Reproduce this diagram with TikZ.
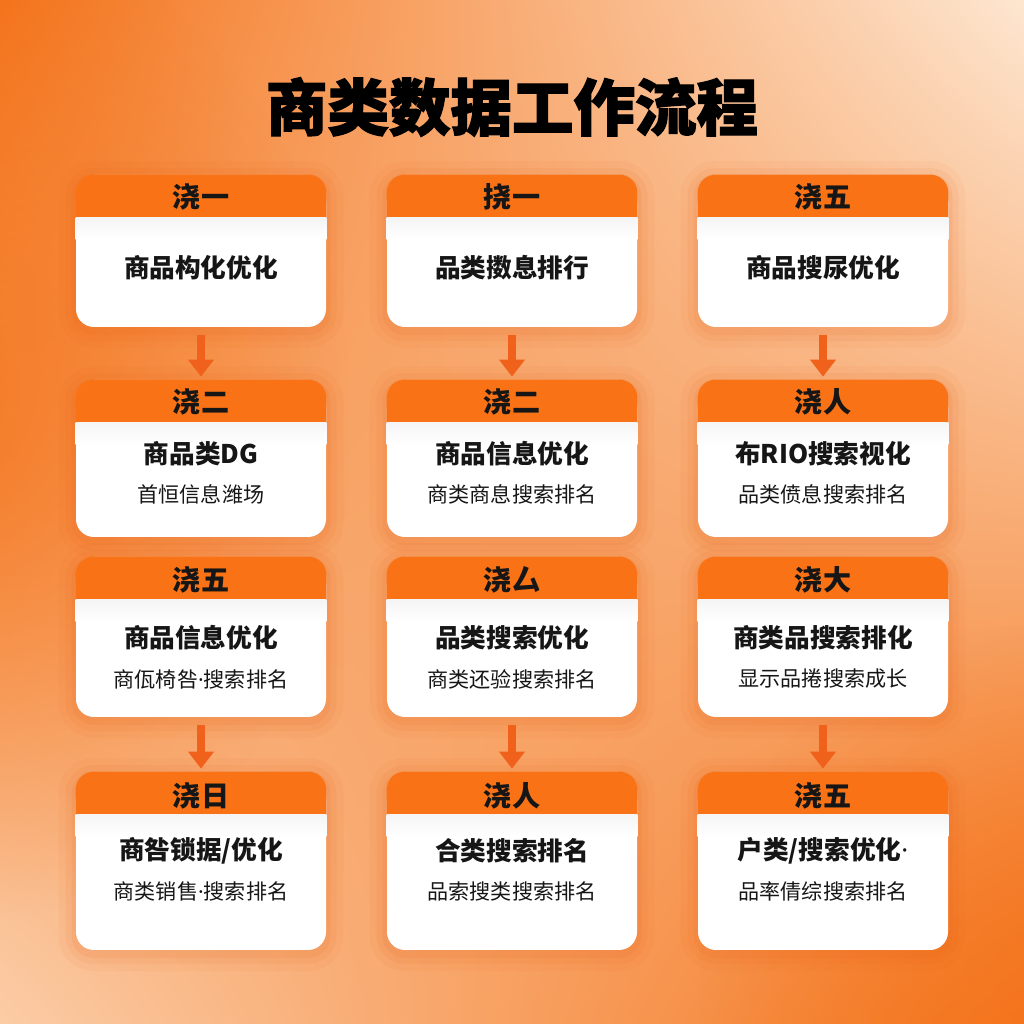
\documentclass[tikz,border=0pt]{standalone}
\usepackage{fontspec}
\setmainfont{Noto Sans CJK SC}
\newfontfamily\titlefont{Noto Sans CJK SC}[BoldFeatures={FakeBold=2}]
\newfontfamily\latinfont{Noto Sans}
\usepackage{xcolor}
\usepackage{tikz}
\usetikzlibrary{positioning,arrows.meta,fadings,shadings}

\definecolor{bgorange}{RGB}{244,116,28}
\definecolor{bgpale}{RGB}{253,230,208}
\definecolor{bgpeach}{RGB}{251,204,166}
\definecolor{hdrorange}{RGB}{249,115,22}
\definecolor{arroworange}{RGB}{240,98,28}
\definecolor{glow}{RGB}{232,90,15}
\definecolor{textdark}{RGB}{22,22,22}
\tikzfading[name=softglow, inner color=transparent!0, outer color=transparent!100]
\newcommand{\mdot}{{\latinfont ·}}

\begin{document}
\begin{tikzpicture}[
    card/.style={rectangle, rounded corners=0.36cm, fill=white, minimum width=5cm, inner sep=0pt,
      preaction={draw=glow, line width=0.7cm, opacity=0.05, transform canvas={yshift=-2pt}},
      preaction={draw=glow, line width=0.42cm, opacity=0.07, transform canvas={yshift=-2pt}},
      preaction={draw=glow, line width=0.18cm, opacity=0.09, transform canvas={yshift=-2pt}}},
    head/.style={font=\bfseries\fontsize{16}{18}\selectfont, text=textdark, inner sep=0pt},
    main/.style={font=\bfseries\fontsize{14.6}{17}\selectfont, text=textdark, inner sep=0pt},
    sub/.style={font=\fontsize{12}{14}\selectfont, text=textdark, inner sep=0pt},
    flow/.style={-{Triangle[width=0.5cm,length=0.34cm]}, line width=0.16cm, draw=arroworange,
      shorten <=0.16cm, shorten >=0.06cm}
]
    \useasboundingbox (0,0) rectangle (20.48,20.48);
    \shade[upper left=bgorange, upper right=bgpale, lower left=bgpeach, lower right=bgorange] (0,0) rectangle (20.48,20.48);
    \fill[bgorange, path fading=softglow, opacity=0.8] (-9,2) rectangle (7,22);
    \fill[bgorange, path fading=softglow, opacity=0.6] (14,-6) rectangle (28,8);

    \node (title) [font=\titlefont\bfseries\fontsize{35}{40}\selectfont, text=black] at (10.24,18.34) {商类数据工作流程};

    \node (c11) [card, minimum height=3.04cm] at (4.02,15.46) {};
    \node (c12) [card, minimum height=3.04cm] at (10.24,15.46) {};
    \node (c13) [card, minimum height=3.04cm] at (16.46,15.46) {};
    \node (c21) [card, minimum height=3.14cm] at (4.02,11.31) {};
    \node (c22) [card, minimum height=3.14cm] at (10.24,11.31) {};
    \node (c23) [card, minimum height=3.14cm] at (16.46,11.31) {};
    \node (c31) [card, minimum height=3.2cm] at (4.02,7.74) {};
    \node (c32) [card, minimum height=3.2cm] at (10.24,7.74) {};
    \node (c33) [card, minimum height=3.2cm] at (16.46,7.74) {};
    \node (c41) [card, minimum height=3.56cm] at (4.02,3.26) {};
    \node (c42) [card, minimum height=3.56cm] at (10.24,3.26) {};
    \node (c43) [card, minimum height=3.56cm] at (16.46,3.26) {};

    \foreach \c in {c11,c12,c13,c21,c22,c23,c31,c32,c33,c41,c42,c43} {
        \fill[hdrorange, rounded corners=0.36cm] (\c.north west) rectangle ([yshift=-0.86cm]\c.north east);
        \fill[hdrorange] ([yshift=-0.5cm]\c.north west) rectangle ([yshift=-0.86cm]\c.north east);
        \shade[top color=black!4, bottom color=white] ([yshift=-0.86cm]\c.north west) rectangle ([yshift=-1.3cm]\c.north east);
    }

    \node (h11) [head] at (4.02,16.54) {浇一};
    \node (h12) [head] at (10.24,16.54) {挠一};
    \node (h13) [head] at (16.46,16.54) {浇五};
    \node (t11) [main] at (4.02,15.12) {商品构化优化};
    \node (t12) [main] at (10.24,15.12) {品类擞息排行};
    \node (t13) [main] at (16.46,15.12) {商品搜尿优化};

    \node (h21) [head] at (4.02,12.44) {浇二};
    \node (h22) [head] at (10.24,12.44) {浇二};
    \node (h23) [head] at (16.46,12.44) {浇人};
    \node (t21) [main] at (4.02,11.40) {商品类DG};
    \node (t22) [main] at (10.24,11.40) {商品信息优化};
    \node (t23) [main] at (16.46,11.40) {布RIO搜索视化};
    \node (s21) [sub] at (4.02,10.60) {首恒信息潍场};
    \node (s22) [sub] at (10.24,10.60) {商类商息搜索排名};
    \node (s23) [sub] at (16.46,10.60) {品类偾息搜索排名};

    \node (h31) [head] at (4.02,8.88) {浇五};
    \node (h32) [head] at (10.24,8.88) {浇厶};
    \node (h33) [head] at (16.46,8.88) {浇大};
    \node (t31) [main] at (4.02,7.72) {商品信息优化};
    \node (t32) [main] at (10.24,7.72) {品类搜索优化};
    \node (t33) [main] at (16.46,7.72) {商类品搜索排化};
    \node (s31) [sub] at (4.02,6.90) {商佤椅咎\mdot 搜索排名};
    \node (s32) [sub] at (10.24,6.90) {商类还验搜索排名};
    \node (s33) [sub] at (16.46,6.90) {显示品捲搜索成长};

    \node (h41) [head] at (4.02,4.56) {浇日};
    \node (h42) [head] at (10.24,4.56) {浇人};
    \node (h43) [head] at (16.46,4.56) {浇五};
    \node (t41) [main] at (4.02,3.46) {商咎锁据/优化};
    \node (t42) [main] at (10.24,3.46) {合类搜索排名};
    \node (t43) [main] at (16.46,3.46) {户类/搜索优化\mdot};
    \node (s41) [sub] at (4.02,2.66) {商类销售\mdot 搜索排名};
    \node (s42) [sub] at (10.24,2.66) {品索搜类搜索排名};
    \node (s43) [sub] at (16.46,2.66) {品率倩综搜索排名};

    \draw[flow] (c11.south) -- (c21.north);
    \draw[flow] (c12.south) -- (c22.north);
    \draw[flow] (c13.south) -- (c23.north);
    \draw[flow] (c31.south) -- (c41.north);
    \draw[flow] (c32.south) -- (c42.north);
    \draw[flow] (c33.south) -- (c43.north);
\end{tikzpicture}
\end{document}
